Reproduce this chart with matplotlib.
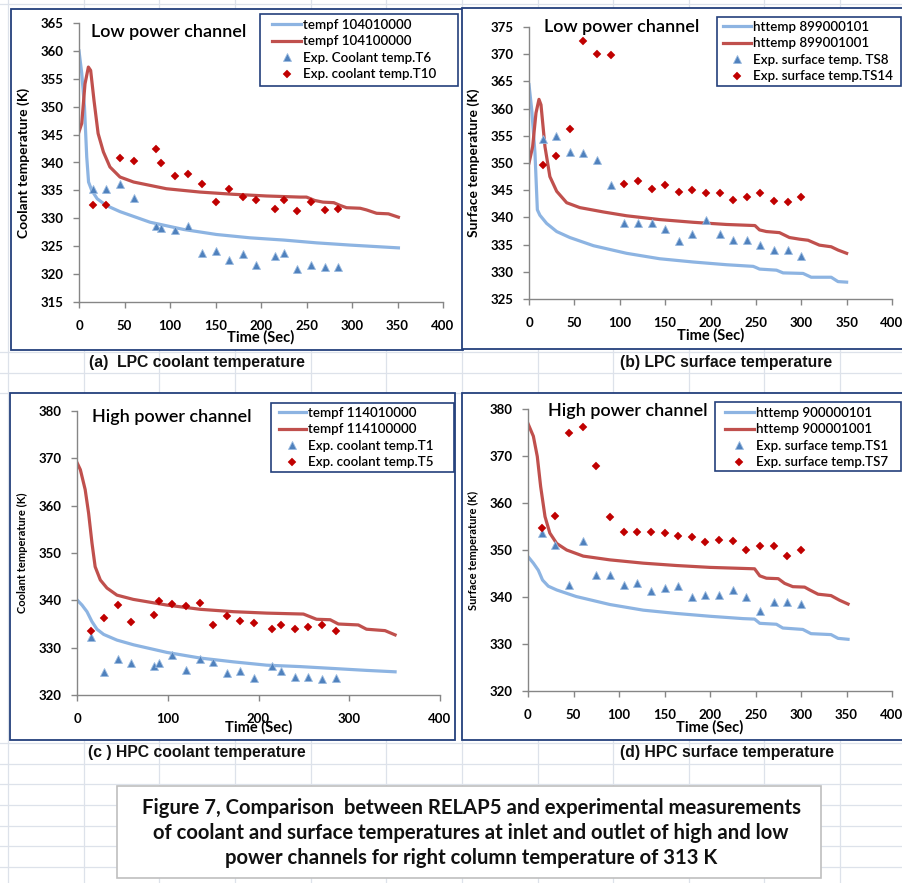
import matplotlib
matplotlib.use('Agg')
import matplotlib.pyplot as plt
from matplotlib.lines import Line2D
from matplotlib.patches import Rectangle

W, H = 902, 883

# ---------------- data ----------------
# (a) LPC coolant temperature
a_t_blue = [0, 3, 6, 8.5, 10.5, 14, 20, 30, 45, 78, 115, 151, 188, 225, 261, 298, 351]
a_blue = [360, 356, 350, 341, 336.5, 335, 333.5, 332.3, 331.2, 329.3, 328.0, 327.1, 326.5, 326.1, 325.6, 325.2, 324.7]
a_t_red = [0, 3, 6.6, 10.3, 12.8, 16.5, 21, 26.8, 34, 45, 60, 78, 96, 133, 170, 206, 243, 250, 259, 268,
           280, 287, 294, 309, 316, 327, 340, 351]
a_red = [345.5, 347, 354.1, 357.1, 356.5, 351.1, 345.2, 341.9, 339.2, 337.4, 336.5, 335.9, 335.3, 334.7, 334.3,
         334.0, 333.8, 333.8, 333.2, 332.9, 332.8, 332.3, 331.9, 331.8, 331.5, 330.9, 330.8, 330.2]
a_t_exp = [15, 30, 45, 60, 85, 90, 105, 120, 135, 150, 165, 180, 195, 215, 225, 240, 255, 270, 285]
a_tri = [335.2, 335.2, 336.2, 333.6, 328.7, 328.3, 327.9, 328.6, 323.7, 324.1, 322.5, 323.6, 321.7, 323.3,
         323.8, 320.9, 321.6, 321.3, 321.2]
a_dia = [332.3, 332.3, 340.8, 340.2, 342.4, 339.9, 337.6, 337.9, 336.2, 332.9, 335.2, 333.8, 333.3, 331.7,
         333.3, 331.3, 333.0, 331.5, 331.6]
a_labels = ['tempf 104010000', 'tempf 104100000', 'Exp. Coolant temp.T6', 'Exp. coolant temp.T10']

# (b) LPC surface temperature
b_t_blue = [0, 3, 6.6, 9.2, 12, 19.4, 30.5, 45, 71, 107.5, 144, 181, 217.6, 247, 250, 254, 272.7, 280, 302,
            311, 333, 340.5, 350]
b_blue = [364.4, 359.8, 351.8, 341.4, 340.4, 338.9, 337.4, 336.3, 334.8, 333.4, 332.4, 331.8, 331.3, 331.0,
          330.8, 330.5, 330.3, 329.8, 329.7, 329.0, 329.0, 328.2, 328.1]
b_t_red = [0, 4, 7.7, 11, 13.2, 17.6, 23, 30.5, 41.5, 56, 82, 107.5, 144, 181, 217.6, 249, 254, 261.6, 276,
           287, 298, 307.5, 320, 333, 340.5, 350]
b_red = [350.0, 353.0, 359.2, 361.7, 360.7, 353.0, 347.5, 344.8, 342.7, 341.8, 341.0, 340.3, 339.6, 339.1,
         338.7, 338.5, 337.7, 337.4, 337.2, 336.3, 336.0, 335.8, 334.9, 334.6, 334.0, 333.4]
b_t_exp = [15, 30, 45, 60, 75, 90, 105, 120, 135, 150, 165, 180, 195, 210, 225, 240, 255, 270, 285, 300]
b_tri = [354.4, 355.0, 352.0, 351.8, 350.5, 345.9, 339.0, 339.0, 339.0, 337.9, 335.7, 336.9, 339.5, 336.9,
         335.9, 335.9, 334.9, 334.0, 334.0, 332.9]
b_dia = [349.7, 351.3, 356.2, 372.4, 370.0, 369.8, 346.2, 346.7, 345.3, 346.0, 344.7, 345.1, 344.4, 344.5,
         343.2, 343.8, 344.4, 343.1, 342.9, 343.8]
b_labels = ['httemp 899000101', 'httemp 899001001', 'Exp. surface temp. TS8', 'Exp. surface temp.TS14']

# (c) HPC coolant temperature
c_t_blue = [0, 5.5, 11, 16.5, 22, 29.4, 44, 62.4, 99, 136, 172.5, 209, 246, 282.6, 319, 350.5]
c_blue = [340.1, 339.0, 337.6, 335.5, 333.9, 332.8, 331.6, 330.6, 329.0, 327.8, 327.0, 326.3, 326.0, 325.6,
          325.2, 324.9]
c_t_red = [0, 3.7, 9, 12.8, 16.5, 20, 25.7, 33, 44, 62, 99, 136, 172.5, 209, 249.5, 258.7, 264, 279, 288,
           310, 319, 339.4, 350.5]
c_red = [369.1, 367.6, 363.4, 358.4, 352.1, 347.1, 344.3, 342.6, 341.1, 340.2, 339.0, 338.1, 337.6, 337.3,
         337.1, 336.4, 336.0, 335.9, 335.0, 334.8, 333.9, 333.6, 332.7]
c_t_exp = [15, 30, 45, 60, 85, 90, 105, 120, 135, 150, 165, 180, 195, 215, 225, 240, 255, 270, 285]
c_tri = [332.2, 324.9, 327.7, 326.8, 326.1, 326.8, 328.4, 325.2, 327.5, 327.0, 324.6, 325.1, 323.5, 326.1,
         325.1, 323.7, 323.7, 323.3, 323.5]
c_dia = [333.5, 336.2, 339.0, 335.4, 337.0, 339.9, 339.2, 338.9, 339.5, 334.7, 336.6, 335.6, 335.2, 334.0,
         334.7, 333.9, 334.4, 334.7, 333.5]
c_labels = ['tempf 114010000', 'tempf 114100000', 'Exp. coolant temp.T1', 'Exp. coolant temp.T5']

# (d) HPC surface temperature
d_t_blue = [0, 5.9, 11.3, 16, 22.3, 31.5, 53, 90, 126.6, 163, 200, 236.4, 249, 254.7, 273, 280, 302, 311,
            333, 340.7, 351.7]
d_blue = [348.6, 347.2, 345.7, 343.6, 342.3, 341.5, 340.1, 338.4, 337.2, 336.5, 335.9, 335.4, 335.3, 334.4,
          334.2, 333.4, 333.1, 332.2, 332.0, 331.2, 331.0]
d_t_red = [0, 5.9, 10.2, 13.9, 18.7, 24, 31.5, 42.5, 60.7, 90, 126.6, 163, 200, 249, 254.7, 262, 275, 282,
           291, 304, 309.6, 318.7, 333, 342.5, 351.7]
d_red = [376.9, 374.2, 369.9, 363.5, 357.1, 353.6, 351.4, 350.0, 348.7, 347.9, 347.2, 346.7, 346.3, 346.0,
         344.5, 344.0, 343.9, 342.9, 342.2, 342.1, 341.5, 340.6, 340.3, 339.3, 338.5]
d_t_exp = [15, 30, 45, 60, 75, 90, 105, 120, 135, 150, 165, 180, 195, 210, 225, 240, 255, 270, 285, 300]
d_tri = [353.7, 351.0, 342.5, 351.9, 344.6, 344.6, 342.5, 343.0, 341.3, 342.0, 342.3, 340.1, 340.4, 340.4,
         341.4, 339.9, 337.1, 339.0, 339.0, 338.6]
d_dia = [354.6, 357.3, 374.8, 376.2, 367.8, 357.1, 353.9, 353.9, 353.8, 353.6, 352.9, 352.8, 351.6, 352.1,
         352.0, 350.1, 350.9, 350.9, 348.7, 350.1]
d_labels = ['httemp 900000101', 'httemp 900001001', 'Exp. surface temp.TS1', 'Exp. surface temp.TS7']

captions = ['(a)  LPC coolant temperature', '(b) LPC surface temperature',
            '(c ) HPC coolant temperature', '(d) HPC surface temperature']
fig_caption = ('Figure 7, Comparison  between RELAP5 and experimental measurements\n'
               'of coolant and surface temperatures at inlet and outlet of high and low\n'
               'power channels for right column temperature of 313 K')

# ---------------- style ----------------
plt.rcParams['font.family'] = ['Lato', 'DejaVu Sans']
BLUE_LINE = '#8db4e2'
RED_LINE = '#c0504d'
TRI = '#4f81bd'
DIA = '#c00000'
NAVY = '#24407c'
GRID = '#dde2ea'
AXC = '#868686'

fig = plt.figure(figsize=(W / 100, H / 100), dpi=100)
fig.patch.set_facecolor('white')


def fx(x):
    return x / W


def fy(y):
    return 1 - y / H


# spreadsheet cells in the background
for x in [8, 84, 159, 235, 311, 386, 462, 538, 613, 689, 764, 840]:
    fig.add_artist(Line2D([fx(x), fx(x)], [0, 1], color=GRID, lw=0.9, zorder=-5))
for y in [4, 352, 373, 393, 743, 764, 784, 805, 826, 846, 867]:
    fig.add_artist(Line2D([0, 1], [fy(y), fy(y)], color=GRID, lw=0.9, zorder=-5))


def box(x0, y0, x1, y1, ec, lw, z):
    r = Rectangle((fx(x0), fy(y1)), (x1 - x0) / W, (y1 - y0) / H, transform=fig.transFigure,
                  facecolor='white', edgecolor=ec, lw=lw, zorder=z)
    fig.add_artist(r)
    return r


def panel(rect, frame, t_blue, blue, t_red, red, t_exp, tri, dia, labels, ylim, ystep, xstep,
          ylabel, ylsize, xlab_dy, title, title_xy, leg_box, leg_xy, handlelen):
    box(*frame, ec=NAVY, lw=1.3, z=-3)
    left, top, right, bottom = rect
    aw, ah = right - left, bottom - top
    ax = fig.add_axes([fx(left), fy(bottom), aw / W, ah / H])
    ax.patch.set_visible(False)
    l1, = ax.plot(t_blue, blue, color=BLUE_LINE, lw=2.3, zorder=2)
    l2, = ax.plot(t_red, red, color=RED_LINE, lw=2.3, zorder=2)
    m1, = ax.plot(t_exp, tri, ls='none', marker='^', ms=5.8, mfc=TRI, mec='#9bbbe0', mew=0.6, zorder=3)
    m2, = ax.plot(t_exp, dia, ls='none', marker='D', ms=3.8, mfc=DIA, mec=DIA, mew=0.3, zorder=3)
    ax.set_xlim(0, 400)
    ax.set_ylim(*ylim)
    ax.set_xticks(range(0, 401, xstep))
    ax.set_yticks(range(int(ylim[0]), int(ylim[1]) + 1, ystep))
    for s in ['top', 'right']:
        ax.spines[s].set_visible(False)
    for s in ['left', 'bottom']:
        ax.spines[s].set_color(AXC)
        ax.spines[s].set_linewidth(1)
    ax.tick_params(direction='out', length=4, width=1, color=AXC, labelsize=9.5)
    ax.tick_params(axis='y', pad=7)
    ax.tick_params(axis='x', pad=9)
    for lab in ax.get_xticklabels() + ax.get_yticklabels():
        lab.set_fontweight('bold')
    ax.set_ylabel(ylabel, fontsize=ylsize, fontweight='bold', va='center')
    ax.yaxis.set_label_coords(-55 / aw, 0.5)
    ax.set_xlabel('Time (Sec)', fontsize=10.5, fontweight='bold', va='center')
    ax.xaxis.set_label_coords(0.5, -xlab_dy / ah)
    fig.text(fx(title_xy[0]), fy(title_xy[1]), title, fontsize=13, fontweight='semibold',
             va='center', ha='left')
    # legend box and entries
    r = Rectangle((fx(leg_box[0]), fy(leg_box[3])), (leg_box[2] - leg_box[0]) / W,
                  (leg_box[3] - leg_box[1]) / H, transform=fig.transFigure, facecolor='white',
                  edgecolor=NAVY, lw=1.2, zorder=4, clip_on=False)
    ax.add_artist(r)
    leg = ax.legend([l1, l2, m1, m2], labels, loc='upper left', bbox_to_anchor=(fx(leg_xy[0]), fy(leg_xy[1])),
                    bbox_transform=fig.transFigure, borderaxespad=0, borderpad=0, frameon=False,
                    prop={'size': 9.6, 'weight': 'semibold'}, handlelength=handlelen,
                    handletextpad=0.15, labelspacing=0.33)
    leg.set_zorder(5)
    return ax


panel((79, 23, 443, 302), (11, 9, 463, 350), a_t_blue, a_blue, a_t_red, a_red, a_t_exp, a_tri, a_dia,
      a_labels, (315, 365), 5, 50, 'Coolant temperature (K)', 10, 35, 'Low power channel', (91, 32),
      (260, 14, 458, 86), (272, 19), 2.2)
panel((529, 27, 892, 299), (462, 8, 910, 349), b_t_blue, b_blue, b_t_red, b_red, b_t_exp, b_tri, b_dia,
      b_labels, (325, 375), 5, 50, 'Surface temperature (K)', 10, 36, 'Low power channel', (544, 27),
      (717, 17, 901, 86), (723, 21), 2.1)
panel((77, 411, 440, 695), (10, 393, 455, 740), c_t_blue, c_blue, c_t_red, c_red, c_t_exp, c_tri, c_dia,
      c_labels, (320, 380), 10, 100, 'Coolant temperature (K)', 8, 32, 'High power channel', (92, 417),
      (271, 403, 454, 472), (279, 407), 2.0)
panel((528, 409, 892, 691), (462, 393, 910, 740), d_t_blue, d_blue, d_t_red, d_red, d_t_exp, d_tri, d_dia,
      d_labels, (320, 380), 10, 50, 'Surface temperature (K)', 8, 36, 'High power channel', (548, 411),
      (715, 402, 901, 471), (725, 407), 2.15)

# panel captions in the cells under each chart
for (cx, cy), txt in zip([(197, 363), (726, 363), (197, 753), (727, 753)], captions):
    fig.text(fx(cx), fy(cy), txt, fontsize=11.3, fontweight='bold', family='Liberation Sans',
             ha='center', va='center', color='#111111')

# figure caption text box
box(117, 786, 821, 878, ec='#bfbfbf', lw=1.2, z=-2)
fig.text(fx(471), fy(833), fig_caption, fontsize=14.6, fontweight='bold', ha='center', va='center',
         multialignment='center', linespacing=1.3, color='#111111')

fig.savefig('out.png', dpi=100)
